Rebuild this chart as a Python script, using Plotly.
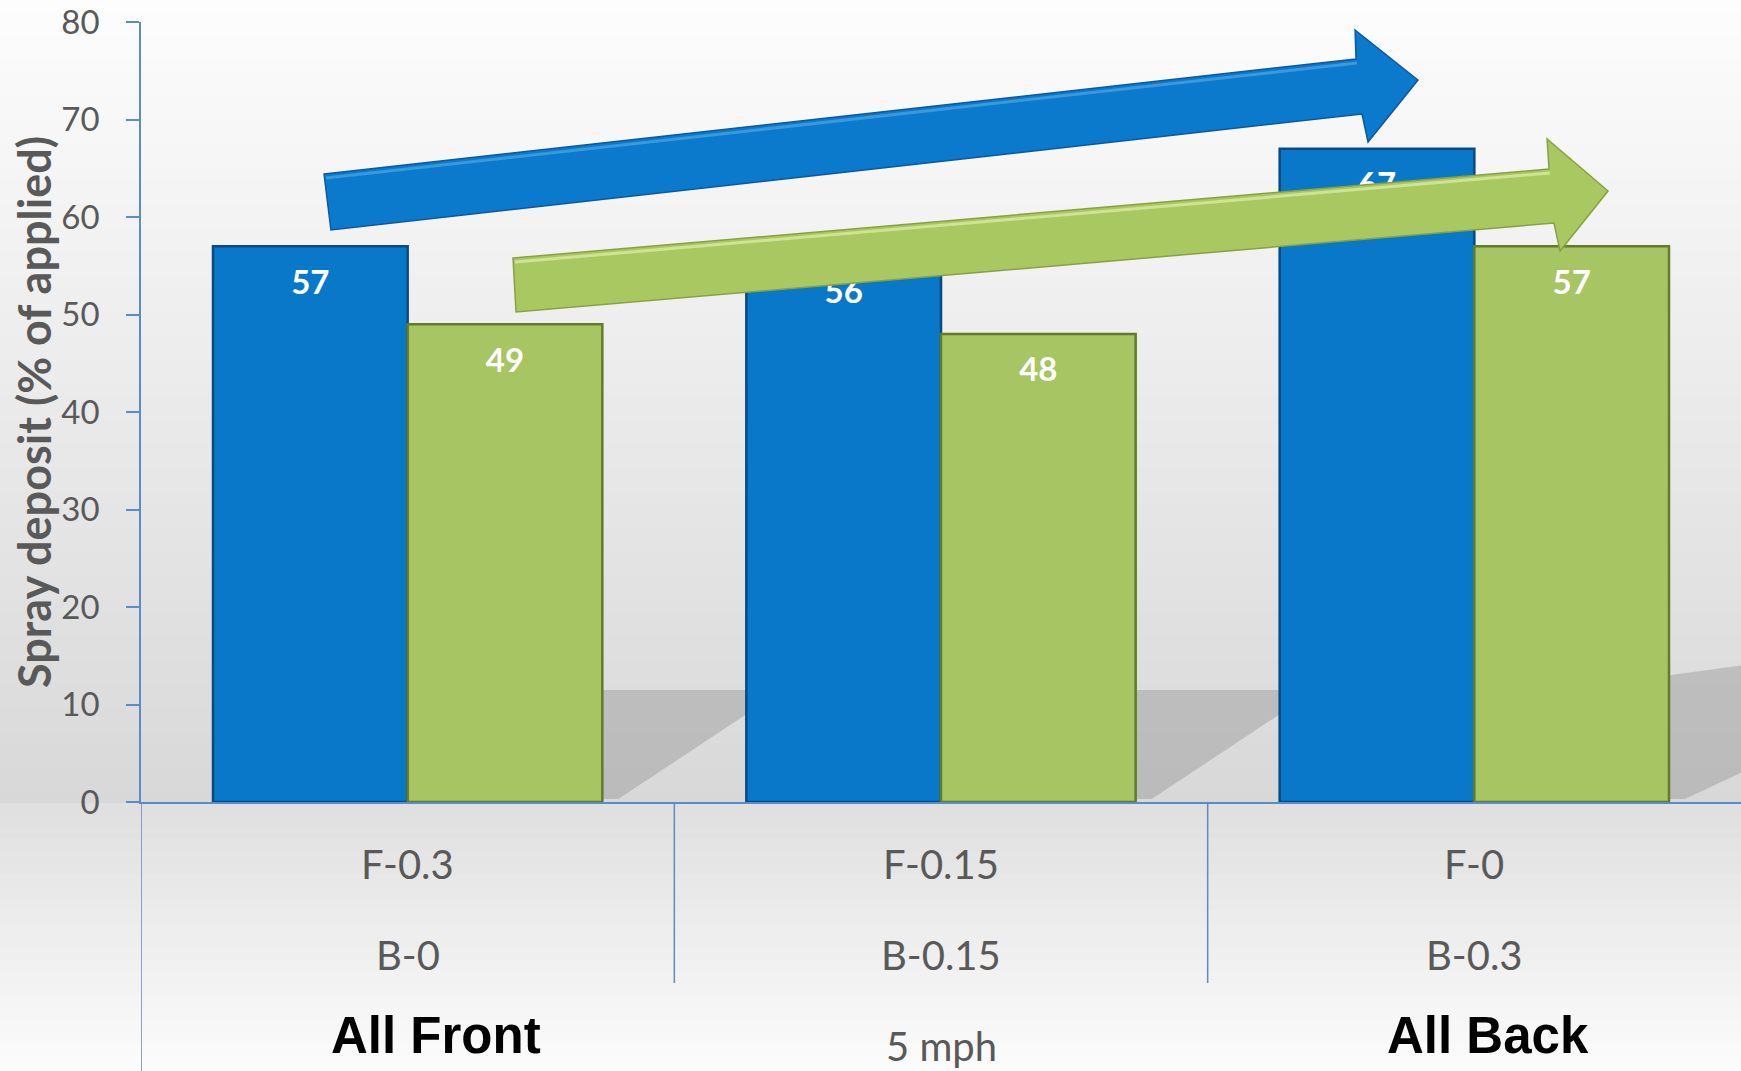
import plotly.graph_objects as go

# ---------------- data ----------------
categories = ["F-0.3 / B-0", "F-0.15 / B-0.15", "F-0 / B-0.3"]
front_labels = ["F-0.3", "F-0.15", "F-0"]
back_labels = ["B-0", "B-0.15", "B-0.3"]
blue_values = [57, 56, 67]
green_values = [49, 48, 57]
group_labels = ["All Front", "5 mph", "All Back"]
y_ticks = [0, 10, 20, 30, 40, 50, 60, 70, 80]

# ---------------- layout constants ----------------
W, H = 1741, 1071
L, R, T, B = 141, 0, 22, 269
PW = W - L - R
PH = H - T - B
BARGAP = 0.27
BLUE = "#0a78c8"
GREEN = "#a7c563"
AXIS_BLUE = "#5b8bc9"
TICK_GRAY = "#595959"
FONT = "Lato"

n = len(categories)
xpos = list(range(n))
half = (1 - BARGAP) / 2
PX_PER_UNIT = PH / 80.0
label_drop = 39 / PX_PER_UNIT  # label centre sits ~39 px below bar top


def px_to_paper(X, Y):
    return (X - L) / PW, (T + PH - Y) / PH


fig = go.Figure()
fig.add_trace(go.Bar(
    x=xpos, y=blue_values, name="Blue", customdata=categories,
    marker=dict(color=BLUE, line=dict(color="#0a4a80", width=2.5)),
    hovertemplate="%{customdata}: %{y}<extra></extra>",
))
fig.add_trace(go.Bar(
    x=xpos, y=green_values, name="Green", customdata=categories,
    marker=dict(color=GREEN, line=dict(color="#617c2a", width=2.5)),
    hovertemplate="%{customdata}: %{y}<extra></extra>",
))
# value labels (as a trace so the arrows can overlap them)
fig.add_trace(go.Scatter(
    x=[i - half / 2 for i in xpos] + [i + half / 2 for i in xpos],
    y=[v - label_drop for v in blue_values] + [v - label_drop for v in green_values],
    text=[f"<b>{v}</b>" for v in blue_values + green_values],
    mode="text", textposition="middle center",
    textfont=dict(family=FONT, size=33, color="white"),
    hoverinfo="skip", cliponaxis=False,
))

shapes = []

# background vertical gradient (bands)
def band_color(Y):
    if Y <= T + PH:
        t = Y / (T + PH)
        g = 253 - (253 - 216) * t
    else:
        t = (Y - (T + PH)) / (H - (T + PH))
        g = 223 + (252 - 223) * t
    g = int(round(g))
    return f"rgb({g},{g},{g})"

step = 12
Y = 0
while Y < H:
    x0, y1 = px_to_paper(0, Y)
    x1, y0 = px_to_paper(W, min(Y + step, H))
    shapes.append(dict(type="rect", xref="paper", yref="paper",
                       x0=x0, x1=x1, y0=y0, y1=y1 + 0.001,
                       fillcolor=band_color(Y + step / 2), line=dict(width=0),
                       layer="below"))
    Y += step

# soft shadows behind bars (derived from bar geometry)
for i in range(n):
    gr = i + half            # right edge of green bar
    if i < n - 1:
        nb = i + 1 - half    # left edge of next blue bar
        top = 11.5
        path = (f"M {gr},{top} L {nb},{top} L {nb},{top-2.5} "
                f"L {gr+0.03},0.3 L {gr},0.3 Z")
    else:
        nb = n - 0.5
        top = 14
        path = (f"M {gr},{top-1} L {nb},{top} L {nb},3 "
                f"L {gr+0.03},0.3 L {gr},0.3 Z")
    shapes.append(dict(type="path", xref="x", yref="y", path=path,
                       fillcolor="rgba(150,150,150,0.45)",
                       line=dict(width=0), layer="below"))

# axis extension / divider lines below the plot
yb_axis = px_to_paper(0, H)[1]
yb_div = px_to_paper(0, 983)[1]
shapes.append(dict(type="line", xref="x", yref="paper", x0=-0.5, x1=-0.5,
                   y0=yb_axis, y1=0, line=dict(color=AXIS_BLUE, width=1.5)))
for i in range(n - 1):
    shapes.append(dict(type="line", xref="x", yref="paper", x0=i + 0.5,
                       x1=i + 0.5, y0=yb_div, y1=0,
                       line=dict(color=AXIS_BLUE, width=1.5)))


# arrows (decorative, pixel-placed)
def arrow_path(pts, close=True):
    s = []
    for k, (X, Yp) in enumerate(pts):
        px, py = px_to_paper(X, Yp)
        s.append(("M" if k == 0 else "L") + f" {px:.4f},{py:.4f}")
    return " ".join(s) + (" Z" if close else "")

blue_arrow = [(324, 174), (1356, 59), (1355, 30), (1418, 80),
              (1368, 142), (1362, 114), (331, 230)]
green_arrow = [(513, 258), (1549, 169), (1547, 139), (1608, 191),
               (1560, 251), (1554, 223), (516, 312)]
shapes.append(dict(type="path", xref="paper", yref="paper",
                   path=arrow_path(blue_arrow), fillcolor="#0b79cc",
                   line=dict(color="#0a5a9c", width=1.5), layer="above"))
shapes.append(dict(type="path", xref="paper", yref="paper",
                   path=arrow_path([(326, 178), (1357, 63)], close=False),
                   line=dict(color="#3a98dc", width=3), layer="above"))
shapes.append(dict(type="path", xref="paper", yref="paper",
                   path=arrow_path(green_arrow), fillcolor="#a9c862",
                   line=dict(color="#86a243", width=1.5), layer="above"))
shapes.append(dict(type="path", xref="paper", yref="paper",
                   path=arrow_path([(515, 262), (1550, 173)], close=False),
                   line=dict(color="#cfe394", width=3), layer="above"))

annotations = []
# category labels (two rows)
yF = px_to_paper(0, 864)[1]
yB = px_to_paper(0, 955)[1]
for i in range(n):
    annotations.append(dict(x=i, y=yF, xref="x", yref="paper",
                            xanchor="center", yanchor="middle",
                            text=front_labels[i], showarrow=False,
                            font=dict(family=FONT, size=40, color=TICK_GRAY)))
    annotations.append(dict(x=i, y=yB, xref="x", yref="paper",
                            xanchor="center", yanchor="middle",
                            text=back_labels[i], showarrow=False,
                            font=dict(family=FONT, size=40, color=TICK_GRAY)))

# group labels
yG = px_to_paper(0, 1035)[1]
yM = px_to_paper(0, 1046)[1]
annotations.append(dict(x=0, y=yG, xref="x", yref="paper", xshift=28,
                        xanchor="center", yanchor="middle",
                        text="<b>" + group_labels[0] + "</b>", showarrow=False,
                        font=dict(family="Liberation Sans", size=51, color="black")))
annotations.append(dict(x=1, y=yM, xref="x", yref="paper",
                        xanchor="center", yanchor="middle",
                        text=group_labels[1], showarrow=False,
                        font=dict(family=FONT, size=40, color=TICK_GRAY)))
annotations.append(dict(x=2, y=yG, xref="x", yref="paper", xshift=14,
                        xanchor="center", yanchor="middle",
                        text="<b>" + group_labels[2] + "</b>", showarrow=False,
                        font=dict(family="Liberation Sans", size=51, color="black")))

# y-axis title
tx, ty = px_to_paper(34, T + PH / 2)
annotations.append(dict(x=tx, y=ty, xref="paper", yref="paper",
                        xanchor="center", yanchor="middle",
                        text="<b>Spray deposit (% of applied)</b>",
                        textangle=-90, showarrow=False,
                        font=dict(family=FONT, size=45, color=TICK_GRAY)))

fig.update_layout(
    width=W, height=H,
    margin=dict(l=L, r=R, t=T, b=B, pad=0),
    paper_bgcolor="white",
    plot_bgcolor="rgba(0,0,0,0)",
    barmode="group", bargap=BARGAP, bargroupgap=0,
    showlegend=False,
    shapes=shapes,
    annotations=annotations,
    xaxis=dict(range=[-0.5, n - 0.5], tickvals=xpos, showticklabels=False,
               ticks="", showgrid=False, zeroline=False, showline=True,
               linecolor=AXIS_BLUE, linewidth=1.5),
    yaxis=dict(range=[0, 80], tickvals=y_ticks, ticks="outside", ticklen=13,
               tickcolor=AXIS_BLUE, tickwidth=1.5, showgrid=False,
               zeroline=False, showline=True, linecolor=AXIS_BLUE,
               linewidth=1.5, ticklabelstandoff=20,
               tickfont=dict(family=FONT, size=33, color=TICK_GRAY)),
)

fig.write_html("out.html", config={"displayModeBar": False},
               post_script="document.body.style.margin='0';"
                           "document.body.style.overflow='hidden';")
